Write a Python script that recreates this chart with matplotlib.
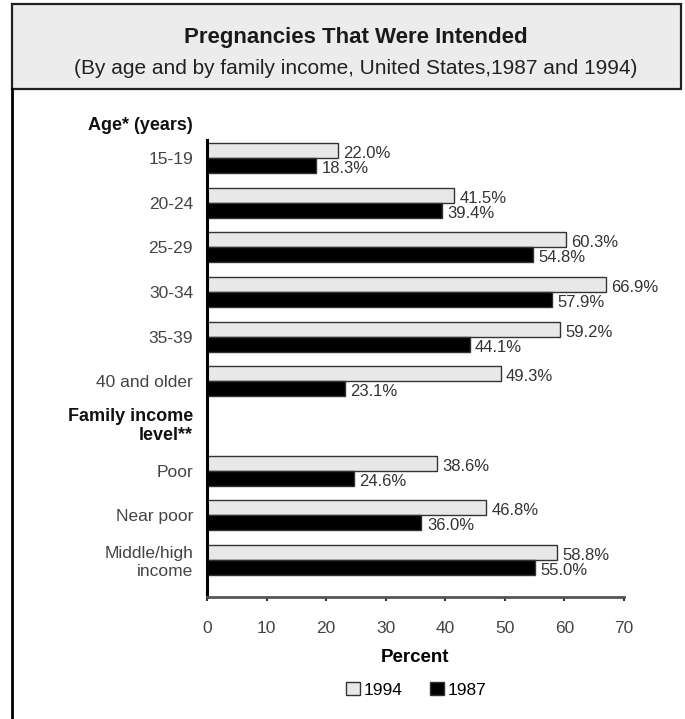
import matplotlib.pyplot as plt
from matplotlib.patches import Rectangle, Patch
from matplotlib.lines import Line2D

categories = ["15-19", "20-24", "25-29", "30-34", "35-39", "40 and older",
              "Poor", "Near poor", "Middle/high\nincome"]
slots = [0, 1, 2, 3, 4, 5, 7, 8, 9]
pct_1994 = [22.0, 41.5, 60.3, 66.9, 59.2, 49.3, 38.6, 46.8, 58.8]
pct_1987 = [18.3, 39.4, 54.8, 57.9, 44.1, 23.1, 24.6, 36.0, 55.0]
xticks = [0, 10, 20, 30, 40, 50, 60, 70]

W, H = 685, 719
FONT = "Liberation Sans"
fig = plt.figure(figsize=(W / 100, H / 100), dpi=100)

# title band
fig.patches.append(Rectangle((12 / W, 1 - 89 / H), (681 - 12) / W, (89 - 4) / H,
                             transform=fig.transFigure, facecolor="#ececec",
                             edgecolor="#222222", linewidth=1.6))
fig.lines.append(Line2D([12 / W, 12 / W], [0, 1 - 89 / H], transform=fig.transFigure,
                        color="black", linewidth=2))
fig.text(356 / W, 1 - 38 / H, "Pregnancies That Were Intended", ha="center", va="center",
         fontsize=16, fontweight="bold", color="#1a1a1a", family=FONT)
fig.text(356 / W, 1 - 69 / H, "(By age and by family income, United States,1987 and 1994)",
         ha="center", va="center", fontsize=15, color="#222222", family=FONT)

ax = fig.add_axes([207 / W, 1 - 597 / H, 417 / W, 457 / H])
h = 0.336
ax.barh([s - h / 2 for s in slots], pct_1994, height=h, color="#e8e8e8",
        edgecolor="#333333", linewidth=1)
ax.barh([s + h / 2 for s in slots], pct_1987, height=h, color="black",
        edgecolor="#333333", linewidth=1)
for s, a, b in zip(slots, pct_1994, pct_1987):
    ax.text(a + 0.9, s - h / 2 + 0.07, f"{a:.1f}%", va="center", ha="left",
            fontsize=12, color="#333333", family=FONT)
    ax.text(b + 0.9, s + h / 2 + 0.07, f"{b:.1f}%", va="center", ha="left",
            fontsize=12, color="#333333", family=FONT)

ax.set_xlim(0, 70)
ax.set_ylim(9.83, -0.4)
ax.set_xticks(xticks)
ax.set_xticklabels([str(t) for t in xticks], fontsize=12.5, color="#444444", family=FONT)
ax.tick_params(axis="x", length=3, width=1.5, pad=14, color="#333333", direction="out")
ax.set_yticks(slots)
ax.set_yticklabels(categories, fontsize=12.5, color="#444444", family=FONT)
ax.tick_params(axis="y", length=0, pad=10)
for lbl in ax.get_yticklabels():
    lbl.set_multialignment("right")
ax.set_xlabel("Percent", fontsize=13.5, fontweight="bold", labelpad=10, family=FONT)
for side in ["top", "right"]:
    ax.spines[side].set_visible(False)
ax.spines["left"].set_linewidth(2.2)
ax.spines["bottom"].set_linewidth(2)
ax.spines["bottom"].set_color("#555555")

# section headers
ax.text(-2.35, -0.72, "Age* (years)", ha="right", va="center", fontsize=13,
        fontweight="bold", color="#111111", family=FONT)
ax.text(-2.35, 6.0, "Family income\nlevel**", ha="right", va="center", fontsize=13,
        fontweight="bold", color="#111111", family=FONT,
        multialignment="right", linespacing=1.15)

handles = [Patch(facecolor="#e8e8e8", edgecolor="#333333", label="1994"),
           Patch(facecolor="black", edgecolor="#333333", label="1987")]
fig.legend(handles=handles, loc="center", bbox_to_anchor=(416 / W, 1 - 690 / H), ncol=2,
           frameon=False, handlelength=0.8, handleheight=0.8, handletextpad=0.2,
           columnspacing=1.6, prop={"family": FONT, "size": 12.5})

fig.savefig("out.png", dpi=100)
